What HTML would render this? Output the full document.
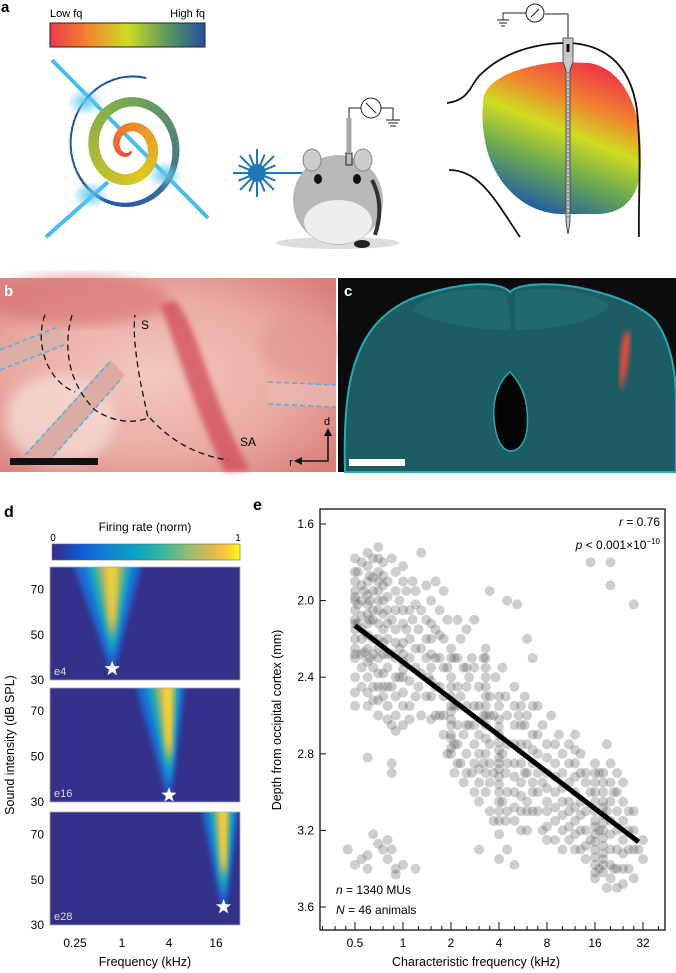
<!DOCTYPE html>
<html><head><meta charset="utf-8">
<style>
html,body{margin:0;padding:0;background:#fff;}
body{width:676px;height:973px;overflow:hidden;position:relative;font-family:"Liberation Sans",sans-serif;}
svg{position:absolute;left:0;top:0;}
text{font-family:"Liberation Sans",sans-serif;}
</style></head>
<body>
<svg id="fig" width="676" height="973" viewBox="0 0 676 973">
<defs>
 <linearGradient id="fqbar" x1="0" x2="1" y1="0" y2="0">
  <stop offset="0" stop-color="#ee3a4a"/><stop offset="0.25" stop-color="#f1872c"/>
  <stop offset="0.5" stop-color="#cfdc25"/><stop offset="0.75" stop-color="#5d9a5f"/>
  <stop offset="1" stop-color="#234f9c"/>
 </linearGradient>
 <linearGradient id="braingrad" x1="0.75" y1="0.05" x2="0.35" y2="1">
  <stop offset="0" stop-color="#ee3a45"/><stop offset="0.25" stop-color="#f0862e"/>
  <stop offset="0.45" stop-color="#cfdc22"/><stop offset="0.7" stop-color="#6aa853"/>
  <stop offset="1" stop-color="#1c58a8"/>
 </linearGradient>
 <linearGradient id="parula" x1="0" x2="1" y1="0" y2="0">
  <stop offset="0" stop-color="#352a87"/><stop offset="0.15" stop-color="#1059d6"/>
  <stop offset="0.3" stop-color="#1084d3"/><stop offset="0.45" stop-color="#08a4c4"/>
  <stop offset="0.6" stop-color="#3db89c"/><stop offset="0.72" stop-color="#8fbe72"/>
  <stop offset="0.85" stop-color="#ddb94f"/><stop offset="0.93" stop-color="#fcc83a"/>
  <stop offset="1" stop-color="#f9fb0e"/>
 </linearGradient>
 <radialGradient id="pink" cx="0.45" cy="0.5" r="0.7">
  <stop offset="0" stop-color="#f3c9c0"/><stop offset="0.6" stop-color="#e9aaa2"/><stop offset="1" stop-color="#d97f7b"/>
 </radialGradient>
 <radialGradient id="glow" cx="0.5" cy="0.5" r="0.5">
  <stop offset="0" stop-color="#5cc8f0" stop-opacity="0.95"/><stop offset="1" stop-color="#5cc8f0" stop-opacity="0"/>
 </radialGradient>
 <filter id="blur3"><feGaussianBlur stdDeviation="3"/></filter>
 <filter id="blur6"><feGaussianBlur stdDeviation="6"/></filter>
 <clipPath id="cp1"><rect x="50" y="567" width="190" height="113"/></clipPath>
 <clipPath id="cp2"><rect x="50" y="688" width="190" height="114"/></clipPath>
 <clipPath id="cp3"><rect x="50" y="812" width="190" height="113"/></clipPath>
 <clipPath id="cpe"><rect x="320" y="509" width="345" height="421"/></clipPath>
</defs>

<!-- Panel a -->
<g>
 <text x="1" y="12" font-size="15" font-weight="bold">a</text>
 <text x="50" y="17" font-size="11">Low fq</text>
 <text x="205" y="17" font-size="11" text-anchor="end">High fq</text>
 <rect x="50" y="23" width="155" height="24" fill="url(#fqbar)" stroke="#222" stroke-width="1"/>
 <line x1="52" y1="60" x2="208" y2="218" stroke="#45bde8" stroke-width="4"/>
 <line x1="46" y1="237" x2="108" y2="182" stroke="#45bde8" stroke-width="4"/>
 <g id="spiral"></g>
 <ellipse cx="85" cy="102" rx="18" ry="14" fill="url(#glow)"/>
 <ellipse cx="165" cy="175" rx="18" ry="14" fill="url(#glow)"/>
 <ellipse cx="90" cy="195" rx="18" ry="14" fill="url(#glow)"/>
 <g id="laser"></g>
 <line x1="257" y1="173" x2="305" y2="173" stroke="#1f77b8" stroke-width="2"/>
 <g>
  <ellipse cx="338" cy="243" rx="62" ry="6" fill="#ddd"/>
  <ellipse cx="338" cy="200" rx="45" ry="45" fill="#b8b8b8"/>
  <ellipse cx="338" cy="222" rx="34" ry="22" fill="#eee"/>
  <ellipse cx="312" cy="160" rx="9" ry="11" fill="#ccc" stroke="#888"/>
  <ellipse cx="363" cy="160" rx="9" ry="11" fill="#ccc" stroke="#888"/>
  <ellipse cx="318" cy="179" rx="4" ry="5" fill="#111"/>
  <ellipse cx="357" cy="179" rx="4" ry="5" fill="#111"/>
  <path d="M372 180 Q385 205 375 235" stroke="#333" stroke-width="4" fill="none"/>
  <ellipse cx="362" cy="244" rx="8" ry="4" fill="#222"/>
 </g>
 <g stroke="#222" fill="none" stroke-width="1">
  <rect x="346" y="153" width="6" height="12" fill="#bbb"/>
  <line x1="349" y1="118" x2="349" y2="153" stroke-width="5" stroke="#aaa"/>
  <polyline points="349,118 349,108 361,108"/>
  <circle cx="371" cy="108" r="10" fill="#fff"/>
  <line x1="366" y1="103" x2="376" y2="113"/>
  <polyline points="381,108 393,108 393,120"/>
  <line x1="386" y1="120" x2="400" y2="120"/><line x1="388" y1="123" x2="398" y2="123"/><line x1="390" y1="126" x2="396" y2="126"/>
 </g>
 <g>
  <path d="M483 105 C480 80 520 65 560 62 L590 63 C625 70 640 110 641 150 C643 190 630 212 600 214 L560 214 C520 212 495 180 487 150 C482 130 482 115 483 105Z" fill="url(#braingrad)"/>
  <path d="M447 103 C470 100 470 85 480 75 C505 50 540 43 568 43 C600 44 630 60 637 110 C642 160 638 200 639 237" fill="none" stroke="#111" stroke-width="1.8"/>
  <path d="M449 170 C480 170 495 200 520 237" fill="none" stroke="#111" stroke-width="1.8"/>
  <path d="M563 38 L573 38 L573 62 L570 70 L570 222 L568 234 L566 222 L566 70 L563 62Z" fill="#c8c8c8" stroke="#333" stroke-width="0.8"/>
  <rect x="566.5" y="44" width="3" height="8" fill="#111"/>
  <line x1="568" y1="72" x2="568" y2="220" stroke="#444" stroke-width="1" stroke-dasharray="1.5 2.5"/>
  <polyline points="568,38 568,14 545,14" fill="none" stroke="#222"/>
  <circle cx="535" cy="13" r="9" fill="#fff" stroke="#222"/>
  <line x1="531" y1="17" x2="539" y2="9" stroke="#222"/>
  <polyline points="526,13 503,13 503,20" fill="none" stroke="#222"/>
  <line x1="497" y1="20" x2="509" y2="20" stroke="#222"/><line x1="499" y1="23" x2="507" y2="23" stroke="#222"/><line x1="501" y1="26" x2="505" y2="26" stroke="#222"/>
 </g>
</g>

<!-- Panel b -->
<g>
 <rect x="0" y="278" width="336" height="194" fill="url(#pink)"/>
 <ellipse cx="80" cy="300" rx="90" ry="25" fill="#d8706e" opacity="0.6" filter="url(#blur6)"/>
 <path d="M175 300 C200 330 210 400 250 470 L225 472 C190 400 175 340 160 305Z" fill="#d24a58" opacity="0.75" filter="url(#blur3)"/>
 <ellipse cx="300" cy="345" rx="40" ry="30" fill="#e39a92" opacity="0.7" filter="url(#blur6)"/>
 <ellipse cx="60" cy="420" rx="55" ry="45" fill="#f6e0d8" opacity="0.7" filter="url(#blur6)"/>
 <polygon points="0,350 60,328 66,345 0,372" fill="#d9b0a8" opacity="0.8"/>
 <line x1="0" y1="350" x2="58" y2="327" stroke="#4fb0e0" stroke-width="1.5" stroke-dasharray="5 3"/>
 <line x1="0" y1="370" x2="64" y2="345" stroke="#4fb0e0" stroke-width="1.5" stroke-dasharray="5 3"/>
 <polygon points="25,455 110,360 125,375 50,460" fill="#d6a49e" opacity="0.8"/>
 <line x1="25" y1="455" x2="110" y2="362" stroke="#4fb0e0" stroke-width="1.5" stroke-dasharray="5 3"/>
 <line x1="48" y1="462" x2="122" y2="378" stroke="#4fb0e0" stroke-width="1.5" stroke-dasharray="5 3"/>
 <polygon points="268,382 336,385 336,407 268,405" fill="#e8b7ae" opacity="0.8"/>
 <line x1="268" y1="382" x2="336" y2="385" stroke="#4fb0e0" stroke-width="1.5" stroke-dasharray="5 3"/>
 <line x1="268" y1="404" x2="336" y2="407" stroke="#4fb0e0" stroke-width="1.5" stroke-dasharray="5 3"/>
 <path d="M45 315 C35 340 45 380 75 392" fill="none" stroke="#111" stroke-width="1.3" stroke-dasharray="6 4"/>
 <path d="M72 315 C62 350 70 385 95 410 C110 420 130 425 148 418 L140 380 C135 350 133 330 135 315" fill="none" stroke="#111" stroke-width="1.3" stroke-dasharray="6 4"/>
 <path d="M150 418 C170 440 195 455 228 460" fill="none" stroke="#111" stroke-width="1.3" stroke-dasharray="6 4"/>
 <text x="145" y="329" font-size="12" text-anchor="middle">S</text>
 <text x="248" y="446" font-size="12" text-anchor="middle">SA</text>
 <text x="327" y="425" font-size="11" text-anchor="middle">d</text>
 <text x="291" y="466" font-size="11" text-anchor="middle">r</text>
 <polyline points="300,461 328,461 328,433" fill="none" stroke="#111" stroke-width="1.5"/>
 <polygon points="324,436 328,428 332,436" fill="#111"/><polygon points="302,457 294,461 302,465" fill="#111"/>
 <rect x="10" y="458" width="88" height="7" fill="#111"/>
 <text x="4" y="296" font-size="15" font-weight="bold" fill="#fff">b</text>
</g>

<!-- Panel c -->
<g>
 <rect x="338" y="278" width="338" height="194" fill="#0b0c0c"/>
 <path d="M345 470 C343 400 350 350 380 320 C400 300 420 295 440 290 C470 282 500 282 510 292 C520 282 560 282 590 290 C615 296 640 305 655 320 C670 340 676 370 676 400 L676 472 L345 472Z" fill="#1b5d63" stroke="#2aa9b4" stroke-width="2"/>
 <path d="M412 310 C430 290 470 286 505 292 C508 300 512 320 510 330 C480 330 440 325 412 310Z" fill="#206a70" opacity="0.9"/>
 <path d="M515 292 C545 285 590 290 610 305 C600 320 560 330 515 330Z" fill="#206a70" opacity="0.9"/>
 <path d="M495 427 C490 400 500 380 510 372 C520 382 530 400 527 430 C524 455 500 462 495 427Z" fill="#050505" stroke="#2aa9b4" stroke-width="1.5"/>
 <path d="M623 340 C626 330 630 325 630 340 C628 365 624 385 620 390 C619 375 620 355 623 340Z" fill="#ff4a3a" filter="url(#blur3)"/>
 <rect x="349" y="459" width="56" height="7" fill="#fff"/>
 <text x="344" y="296" font-size="15" font-weight="bold" fill="#fff">c</text>
</g>

<!-- Panel d -->
<g>
 <text x="4" y="517" font-size="16" font-weight="bold">d</text>
 <text x="145" y="531" font-size="12" text-anchor="middle">Firing rate (norm)</text>
 <text x="53" y="541" font-size="10" text-anchor="middle">0</text>
 <text x="238" y="541" font-size="10" text-anchor="middle">1</text>
 <rect x="52" y="544" width="188" height="16" fill="url(#parula)" stroke="#666" stroke-width="0.6"/>
 <g id="heatmaps"></g>
 <text transform="translate(14,745) rotate(-90)" font-size="12.5" text-anchor="middle">Sound intensity (dB SPL)</text>
 <text x="145" y="966" font-size="12.5" text-anchor="middle">Frequency (kHz)</text>
</g>

<!-- Panel e -->
<g>
 <text x="253" y="510" font-size="16" font-weight="bold">e</text>
 <g id="scatter" clip-path="url(#cpe)"></g>
 <rect x="320" y="509" width="345" height="421" fill="none" stroke="#111" stroke-width="1.3"/>
 <g id="eaxes"></g>
 <text x="660" y="526" font-size="12" text-anchor="end"><tspan font-style="italic">r</tspan> = 0.76</text>
 <text x="660" y="549" font-size="12" text-anchor="end"><tspan font-style="italic">p</tspan> &lt; 0.001×10<tspan font-size="8" dy="-5">−10</tspan></text>
 <text x="336" y="894" font-size="12"><tspan font-style="italic">n</tspan> = 1340 MUs</text>
 <text x="336" y="914" font-size="12"><tspan font-style="italic">N</tspan> = 46 animals</text>
 <text transform="translate(281,720) rotate(-90)" font-size="12.5" text-anchor="middle">Depth from occipital cortex (mm)</text>
 <text x="476" y="966" font-size="12.5" text-anchor="middle">Characteristic frequency (kHz)</text>
</g>
</svg>

<script>
// ---------- Panel e data ----------
const eXTicks = [0.5, 1, 2, 4, 8, 16, 32];
const eYTicks = [1.6, 2.0, 2.4, 2.8, 3.2, 3.6];
const cfKHz = [0.5,0.5,0.5,0.5,0.5,0.5,0.5,0.5,0.5,0.5,0.5,0.52,0.52,0.52,0.55,0.55,0.55,0.55,0.57,0.57,0.6,0.6,0.6,0.6,0.6,0.6,0.6,0.6,0.6,0.6,0.62,0.62,0.62,0.62,0.65,0.65,0.65,0.65,0.65,0.65,0.7,0.7,0.7,0.7,0.7,0.7,0.7,0.7,0.7,0.75,0.75,0.75,0.75,0.75,0.75,0.75,
0.8,0.8,0.8,0.8,0.8,0.85,0.85,0.85,0.85,0.85,0.9,0.9,0.9,0.9,0.9,0.95,0.95,0.95,1.0,1.0,1.0,1.0,1.0,1.0,1.0,1.05,1.05,1.1,1.1,1.15,1.15,1.2,1.2,1.25,1.25,1.3,1.3,1.3,
1.4,1.4,1.4,1.45,1.5,1.5,1.5,1.5,1.5,1.6,1.6,1.6,1.7,1.7,1.7,1.8,1.8,1.8,1.8,1.9,1.9,1.9,2.0,2.0,2.0,2.0,2.0,2.0,2.0,2.1,2.1,2.1,2.1,2.2,2.2,2.2,2.3,2.3,2.3,2.4,2.4,2.4,2.5,2.5,2.5,2.6,2.6,2.7,2.7,2.8,2.8,2.8,
3.0,3.0,3.0,3.0,3.2,3.2,3.2,3.3,3.3,3.3,3.3,3.3,3.3,3.3,3.5,3.5,3.5,3.5,3.7,3.7,3.7,3.8,4.0,4.0,4.0,4.0,4.0,4.0,4.0,4.0,4.0,4.2,4.2,4.2,4.4,4.4,4.4,4.5,4.5,
5.0,5.0,5.0,5.0,5.0,5.2,5.3,5.5,5.5,5.5,5.8,5.8,5.8,6.0,6.0,6.0,6.5,6.5,6.5,6.5,7.0,7.0,7.0,7.5,7.5,7.5,8.0,8.0,8.0,8.0,8.5,9.0,9.0,9.0,9.5,10,10,10,
11,11,11,11,12,12,12,12,12,13,13,13,14,14,14,15,15,16,16,16,16,16,16,16,16,17,17,17,18,18,18,18,18,18,18,19,19,19,20,20,20,21,21,22,22,22,24,24,24,26,26,28,28,30,32,32,
15,20,20,28,0.45,0.5,0.55,0.6,0.6,0.65,0.7,0.75,0.8,0.8,0.85,0.9,0.9,1.0,1.2,0.6,0.85,0.85,4.0,3.0,5.0,
0.5,0.5,0.5,0.5,0.5,0.5,0.55,0.55,0.55,0.55,0.55,0.6,0.6,0.6,0.65,0.65,0.65,0.65,0.7,0.7,0.7,0.7,0.7,0.7,0.75,0.75,0.75,0.75,
0.8,0.8,0.8,0.8,0.8,0.9,0.9,0.9,0.9,0.9,1.0,1.0,1.0,1.0,1.0,1.1,1.1,1.1,1.1,1.2,1.2,1.2,1.3,1.3,1.4,1.4,1.5,1.5,1.5,1.6,1.6,1.7,1.7,1.8,1.8,
2.0,2.0,2.0,2.0,2.0,2.0,2.2,2.2,2.2,2.2,2.5,2.5,2.5,2.5,2.8,2.8,2.8,2.8,3.0,3.0,3.0,3.3,3.3,3.3,3.3,3.3,3.3,3.5,3.5,3.5,
4.0,4.0,4.0,4.0,4.0,4.0,4.0,4.0,4.5,4.5,4.5,4.5,4.5,5.0,5.0,5.0,5.0,5.5,5.5,5.5,5.5,5.5,6.0,6.0,6.0,6.0,6.5,6.5,6.5,6.5,7.0,7.0,7.0,
8.0,8.0,8.0,8.0,9.0,9.0,9.0,9.0,10,10,10,10,11,11,11,12,12,12,12,13,13,13,14,14,14,
16,16,16,16,16,16,16,18,18,18,18,18,18,18,20,20,20,20,20,22,22,22,22,24,24,24,24,26,26,28,28];
const depthMm = [1.78,1.9,1.95,2.0,2.05,2.1,2.15,2.2,2.25,2.3,2.48,1.85,2.02,2.12,2.0,2.08,2.2,2.35,1.95,2.27,1.82,1.9,1.97,2.02,2.07,2.12,2.18,2.25,2.4,2.55,1.87,2.0,2.1,2.3,1.78,1.95,2.05,2.2,2.35,2.45,1.72,1.85,1.95,2.05,2.12,2.2,2.3,2.45,2.6,1.8,1.92,2.0,2.15,2.28,2.38,2.5,
1.9,2.05,2.2,2.35,2.55,1.78,2.1,2.28,2.45,2.65,1.95,2.15,2.3,2.5,2.6,2.0,2.25,2.4,1.82,2.05,2.22,2.32,2.4,2.48,2.65,1.95,2.15,2.3,2.55,1.9,2.1,2.02,2.35,2.15,2.45,1.75,2.25,2.6,
1.92,2.1,2.3,2.4,2.0,2.2,2.35,2.5,2.62,1.9,2.15,2.45,2.05,2.3,2.6,1.95,2.2,2.5,2.7,2.1,2.35,2.8,2.25,2.4,2.5,2.58,2.65,2.72,2.8,2.3,2.55,2.75,2.9,2.1,2.45,2.65,2.2,2.5,2.85,2.35,2.7,2.95,2.15,2.55,2.8,2.4,2.65,2.3,2.9,2.1,2.55,2.75,
2.45,2.7,2.95,3.05,2.3,2.6,2.85,2.25,2.35,2.45,2.55,2.65,2.8,3.0,2.5,2.75,3.1,1.95,2.6,2.9,3.15,2.4,2.55,2.62,2.7,2.78,2.85,2.92,3.0,3.1,3.22,2.35,2.8,3.05,2.5,2.9,3.15,2.0,3.3,
2.45,2.65,2.85,3.0,3.15,2.02,2.6,2.75,2.95,3.1,2.5,2.65,2.9,2.2,3.05,3.2,2.3,2.7,2.85,3.0,2.55,2.8,3.1,2.65,2.95,3.2,2.75,2.9,3.05,3.25,2.6,2.85,3.0,3.15,2.7,2.9,3.05,3.2,
2.75,2.95,3.1,3.25,2.7,2.85,3.0,3.15,3.3,2.8,3.05,3.2,2.9,3.1,3.35,3.0,3.25,2.85,2.95,3.05,3.15,3.22,3.3,3.38,3.45,2.9,3.2,3.4,2.95,3.05,3.12,3.2,3.28,3.35,3.42,2.75,3.1,3.5,2.85,3.15,3.3,3.0,3.4,2.9,3.2,3.5,3.05,3.25,3.4,3.1,3.3,3.2,3.45,3.3,3.25,3.35,
1.8,1.8,1.92,2.02,3.3,3.38,3.35,3.33,3.4,3.22,3.27,3.3,3.25,3.35,3.3,3.4,3.43,3.38,3.4,2.82,2.85,2.9,3.35,3.3,3.38,
1.85,1.98,2.12,2.28,2.4,2.55,1.8,1.92,2.15,2.28,2.45,1.75,2.32,2.48,1.88,2.1,2.28,2.52,1.78,1.9,2.0,2.25,2.38,2.52,1.87,2.07,2.22,2.45,
1.98,2.12,2.28,2.45,2.62,1.85,2.05,2.22,2.4,2.68,1.9,2.12,2.28,2.36,2.55,2.05,2.2,2.42,2.62,1.95,2.25,2.5,2.05,2.38,2.2,2.5,2.12,2.28,2.42,2.3,2.6,2.18,2.45,2.35,2.6,
2.3,2.45,2.55,2.62,2.7,2.77,2.3,2.55,2.75,2.85,2.35,2.45,2.65,2.9,2.35,2.65,2.85,3.0,2.55,2.8,2.88,2.3,2.4,2.5,2.6,2.72,2.9,2.6,2.85,2.95,
2.5,2.66,2.74,2.82,2.88,2.96,3.05,3.15,2.6,2.75,2.85,3.0,3.1,2.55,2.75,2.92,3.08,2.55,2.65,2.85,3.02,3.2,2.6,2.75,2.9,3.1,2.55,2.78,2.95,3.1,2.7,2.9,3.0,
2.82,2.98,3.1,3.18,2.75,2.92,3.08,3.25,2.8,2.98,3.12,3.3,2.85,3.05,3.18,2.78,2.92,3.08,3.22,2.9,3.12,3.3,2.95,3.2,3.28,
2.9,3.0,3.1,3.18,3.26,3.34,3.42,2.9,3.0,3.08,3.16,3.24,3.32,3.38,2.95,3.05,3.22,3.38,3.45,3.0,3.1,3.3,3.4,2.95,3.15,3.32,3.48,3.2,3.4,3.1,3.3];
const fitFreq = [0.5, 30];
const fitDepth = [2.13, 3.26];

// ---------- Panel d data ----------
const dPanelNames = ['e4', 'e16', 'e28'];
const dCF = [0.75, 4, 20];          // kHz
const dThreshold = [35, 33, 38];    // dB SPL
const dLowEdgeTop = [0.22, 1.4, 10]; // kHz at 80 dB
const dHighEdgeTop = [1.9, 6.5, 32];
const dPeak = [0.85, 1, 1];
const dXTicks = [0.25, 1, 4, 16];
const dYTicks = [30, 50, 70];

const NS = 'http://www.w3.org/2000/svg';
function mk(tag, attrs, parent){ const e=document.createElementNS(NS,tag); for(const k in attrs) e.setAttribute(k,attrs[k]); if(parent) parent.appendChild(e); return e; }

// ---- panel a spiral & laser
(function(){
  const g=document.getElementById('spiral');
  const cx=129, cy=147, N=160, turns=2.6*Math.PI*2;
  const cols=[[238,58,60],[241,120,40],[220,200,35],[120,170,80],[40,90,170],[30,80,160]];
  function col(t){ const s=t*(cols.length-1), i=Math.min(Math.floor(s),cols.length-2), f=s-i; const a=cols[i],b=cols[i+1]; return 'rgb('+a.map((v,j)=>Math.round(v+(b[j]-v)*f)).join(',')+')'; }
  let prev=null;
  for(let i=0;i<=N;i++){
    const t=i/N, th=t*turns, r=5+60*t;
    const p=[cx+r*Math.cos(th+1.2), cy+r*1.1*Math.sin(th+1.2)];
    if(prev){
      const w=2+9*Math.sin(Math.PI*Math.min(t*1.15,1));
      const l=mk('line',{x1:prev[0],y1:prev[1],x2:p[0],y2:p[1],stroke:col(t),'stroke-width':Math.max(w,1.5),'stroke-linecap':'round'},g);
      
      
    }
    prev=p;
  }
  const lg=document.getElementById('laser');
  for(let k=0;k<16;k++){ const a=k*Math.PI/8; const r=k%2?20:24;
    mk('line',{x1:257,y1:173,x2:257+r*Math.cos(a),y2:173+r*Math.sin(a),stroke:'#1f77b8','stroke-width':2},lg); }
  mk('circle',{cx:257,cy:173,r:9,fill:'#1f77b8'},lg);
})();

// ---- panel d heatmaps
(function(){
  const g=document.getElementById('heatmaps');
  const tops=[567,688,812], H=[113,114,113];
  const x0=50, x1=240;
  const fx=f=>75+23.5*Math.log2(f/0.25);
  for(let p=0;p<3;p++){
    const top=tops[p], bot=top+H[p];
    const dy=db=>bot-(db-30)*(H[p]/50);
    const pg=mk('g',{'clip-path':'url(#cp'+(p+1)+')'},g);
    
    
    mk('rect',{x:x0,y:top,width:x1-x0,height:H[p],fill:'#34318a'},pg);
    const cx=fx(dCF[p]), ty=dy(dThreshold[p]);
    const L=fx(dLowEdgeTop[p]), R=fx(dHighEdgeTop[p]);
    const layers=[[1,'#1d6fe0',0.9],[0.72,'#0aa5c8',0.9],[0.5,'#5fbb86',0.9],[0.32,'#e8b84a',dPeak[p]],[0.15,'#f5e030',dPeak[p]*0.8]];
    layers.forEach(([s,c,o],i)=>{
      const l=cx-(cx-L)*s, r=cx+(R-cx)*s;
      const yb=ty-(ty-top)*(1-s)*0.55;
      mk('path',{d:`M${l} ${top-10} L${r} ${top-10} L${cx+2} ${yb} L${cx-2} ${yb} Z`,fill:c,opacity:o,filter:'url(#blur3)'},pg);
    });
    const sp=[]; for(let k=0;k<10;k++){ const a=-Math.PI/2+k*Math.PI/5, rr=k%2?3.3:8; sp.push((cx+rr*Math.cos(a)).toFixed(1)+','+(ty+rr*Math.sin(a)).toFixed(1)); }
    const st=mk('polygon',{points:sp.join(' '),fill:'#fff'},g);
    
    
    mk('rect',{x:x0,y:top,width:x1-x0,height:H[p],fill:'none',stroke:'#aaa','stroke-width':0.8},g);
    const lb=mk('text',{x:54,y:bot-5,'font-size':11,fill:'#ddd'},g); lb.textContent=dPanelNames[p];
    
    
    dYTicks.forEach(v=>{ const t=mk('text',{x:44,y:dy(v)+4,'font-size':12,'text-anchor':'end'},g); t.textContent=v;
      
       });
  }
  dXTicks.forEach(v=>{ const t=mk('text',{x:fx(v),y:947,'font-size':12,'text-anchor':'middle'},g); t.textContent=v;
    
     });
})();

// ---- panel e scatter
(function(){
  const sx=f=>355+48*Math.log2(f/0.5);
  const sy=d=>524+(d-1.6)*191.5;
  const g=document.getElementById('scatter');
  for(let i=0;i<cfKHz.length;i++){
    const c=mk('circle',{cx:sx(cfKHz[i]),cy:sy(depthMm[i]),r:5,fill:'#505050','fill-opacity':0.28},g);
    
    
  }
  const fl=mk('line',{x1:sx(fitFreq[0]),y1:sy(fitDepth[0]),x2:sx(fitFreq[1]),y2:sy(fitDepth[1]),stroke:'#000','stroke-width':5},document.getElementById('fig'));
  
  
  const ax=document.getElementById('eaxes');
  eYTicks.forEach(v=>{ mk('line',{x1:320,y1:sy(v),x2:326,y2:sy(v),stroke:'#111'},ax);
    const t=mk('text',{x:314,y:sy(v)+4,'font-size':12,'text-anchor':'end'},ax); t.textContent=v.toFixed(1);
    
     });
  for(let o=-1;o<7;o++){ const base=0.5*Math.pow(2,o);
    for(let m=1;m<2;m+=0.25){ const f=base*m; const x=sx(f); if(x<322||x>663) continue;
      mk('line',{x1:x,y1:930,x2:x,y2:m===1?922:926,stroke:'#111'},ax); } }
  eXTicks.forEach(v=>{ const t=mk('text',{x:sx(v),y:947,'font-size':12,'text-anchor':'middle'},ax); t.textContent=v;
    
     });
})();
</script>
</body></html>
